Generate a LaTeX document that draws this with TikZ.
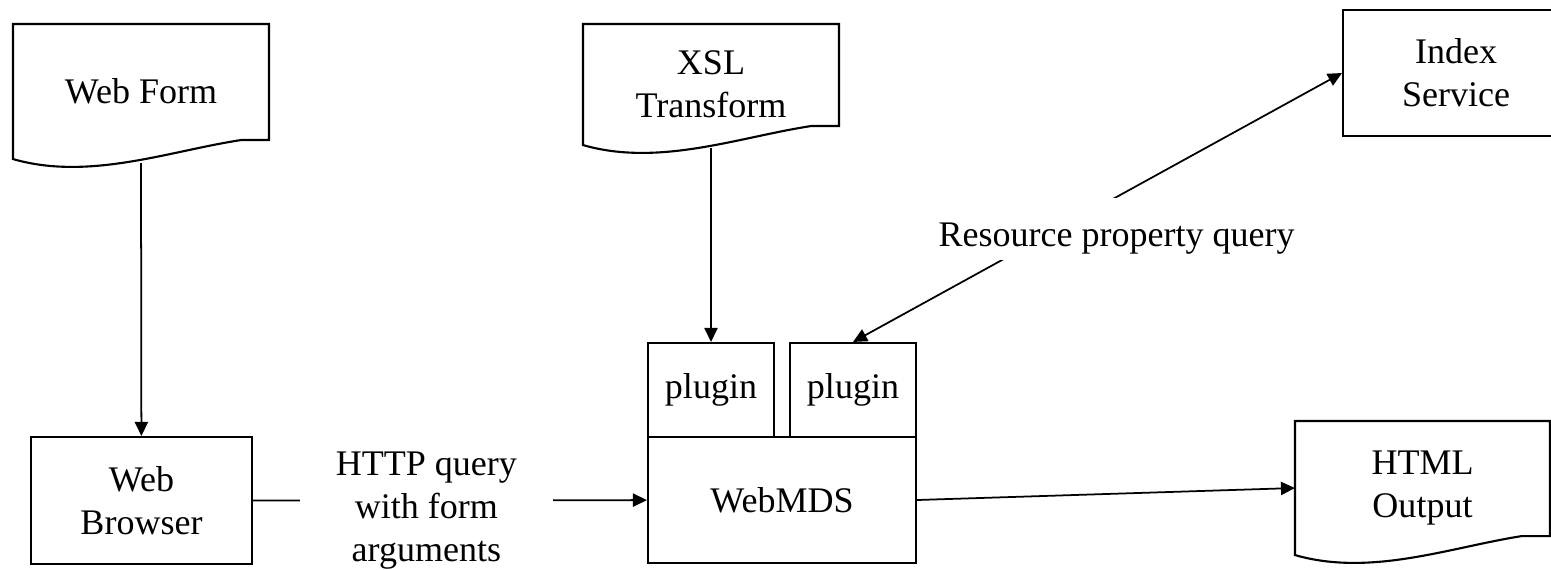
\documentclass[tikz,border=0pt]{standalone}
\usepackage{fontspec}
\setmainfont{Liberation Serif}
\usetikzlibrary{positioning,calc,arrows.meta}
\tikzset{>={Triangle[length=8pt,width=7.5pt]}}
\tikzset{
  box/.style={draw,line width=1.2pt,inner sep=0pt,align=center,font=\fontsize{20.5}{24.5}\selectfont},
  docbox/.style={box,draw=none},
  link/.style={line width=1pt},
  gaplabel/.style={fill=white,inner xsep=0.1cm,align=center,font=\fontsize{20.5}{24.5}\selectfont}
}
\newcommand{\docedge}[1]{%
  \draw[line width=1.2pt] (#1.south west) -- (#1.north west) -- (#1.north east)
    -- ($(#1.south east)+(0,-19)$) -- ($(#1.south east)+(-28,-19)$)
    .. controls ($(#1.south west)+(156,-8)$) and ($(#1.south west)+(76,22)$) .. (#1.south west) -- cycle;}

\begin{document}
\begin{tikzpicture}[x=0.02cm,y=-0.02cm]
\useasboundingbox (0,0) rectangle (1551,569);
\clip (0,0) rectangle (1551,569);
\node[docbox,minimum width=5.08cm,minimum height=2.66cm] (form) at (141,91.5) {Web Form};
\node[docbox,minimum width=5.08cm,minimum height=2.38cm] (xsl) at (711,84.5) {XSL\\Transform};
\node[docbox,minimum width=5.06cm,minimum height=2.64cm] (html) at (1422.5,488) {HTML\\Output};
\docedge{form}
\docedge{xsl}
\docedge{html}
\node[box,minimum width=4.42cm,minimum height=2.54cm] (browser) at (141.5,500.5) {Web\\Browser};
\node[box,minimum width=5.36cm,minimum height=2.52cm] (mds) at (782,500) {WebMDS};
\node[box,minimum width=2.52cm,minimum height=1.88cm] (plugA) at (711,390) {plugin};
\node[box,minimum width=2.52cm,minimum height=1.88cm] (plugB) at (853,390) {plugin};
\node[box,minimum width=4.52cm,minimum height=2.52cm] (index) at (1456,73) {Index\\Service};
\draw[link,->] ($(form.south)+(0,4)$) -- (browser);
\draw[link,->] ($(xsl.south)+(0,3)$) -- (plugA);
\draw[link,->] (browser) -- node[gaplabel,pos=0.44,yshift=-0.2cm,minimum width=5.06cm] {HTTP query\\with form\\arguments} (mds);
\draw[link,->] (mds.east) -- (html.west);
\draw[link,<->] (plugB.north) -- node[gaplabel,pos=0.539,yshift=-0.65cm,text height=0.96cm,text depth=0.28cm,inner ysep=0pt] {Resource property query} (index.west);
\end{tikzpicture}
\end{document}
